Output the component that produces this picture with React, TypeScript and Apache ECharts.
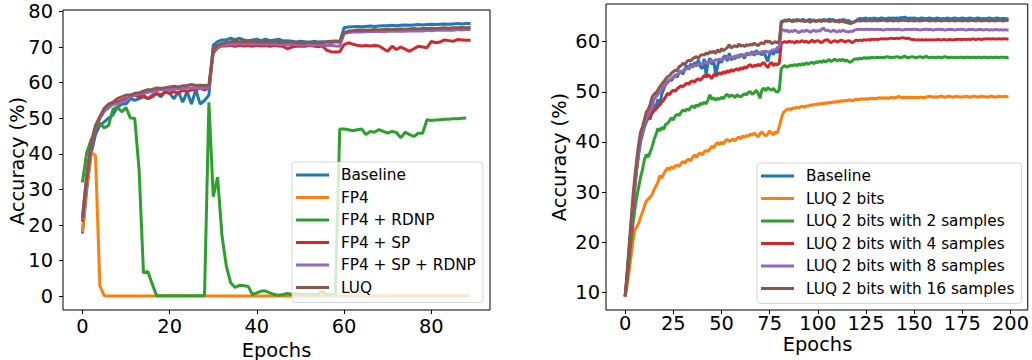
import React, { useEffect, useRef } from "react";
import * as echarts from "echarts";

const COLORS = ["#1f77b4", "#ff7f0e", "#2ca02c", "#d62728", "#9467bd", "#8c564b"];
const FONT = "DejaVu Sans";

const leftNames = ["Baseline", "FP4", "FP4 + RDNP", "FP4 + SP", "FP4 + SP + RDNP", "LUQ"];
const rightNames = [
  "Baseline",
  "LUQ 2 bits",
  "LUQ 2 bits with 2 samples",
  "LUQ 2 bits with 4 samples",
  "LUQ 2 bits with 8 samples",
  "LUQ 2 bits with 16 samples",
];

const leftXTicks = [0, 20, 40, 60, 80];
const leftYTicks = [0, 10, 20, 30, 40, 50, 60, 70, 80];
const rightXTicks = [0, 25, 50, 75, 100, 125, 150, 175, 200];
const rightYTicks = [10, 20, 30, 40, 50, 60];

// ---- Left plot (epochs 0..89) ----
const baselineL = [
  17.6, 30, 40, 45.5, 48, 49, 50, 51, 53, 54,
  54, 55.5, 55, 55.5, 56, 55.5, 56.5, 57, 56, 57.5,
  57, 55.5, 57.5, 54.5, 57.5, 54, 58, 54, 55, 56.5,
  70.5, 71.5, 72, 72, 72.5, 72, 72.5, 72, 71.8, 72,
  72.2, 71.8, 72.2, 71.8, 72, 72.2, 71.7, 71.8, 71.6, 71.4,
  71.6, 71.5, 71.3, 71.6, 71.4, 71.5, 71.4, 71.3, 71.5, 71.4,
  75.4, 75.6, 75.7, 75.8, 75.7, 75.8, 75.9, 75.8, 75.9, 76,
  76, 76.1, 76, 76.1, 76.2, 76.1, 76.2, 76.3, 76.2, 76.3,
  76.4, 76.3, 76.4, 76.5, 76.4, 76.5, 76.6, 76.5, 76.6, 76.6,
];
const fp4L = [
  18, 31, 40.5, 39.5, 3, 0.2, 0.1, 0.1, 0.1, 0.1,
  0.1, 0.1, 0.1, 0.1, 0.1, 0.1, 0.1, 0.1, 0.1, 0.1,
  0.1, 0.1, 0.1, 0.1, 0.1, 0.1, 0.1, 0.1, 0.1, 0.1,
  0.1, 0.1, 0.1, 0.1, 0.1, 0.1, 0.1, 0.1, 0.1, 0.1,
  0.1, 0.1, 0.1, 0.1, 0.1, 0.1, 0.1, 0.1, 0.1, 0.1,
  0.1, 0.1, 0.1, 0.1, 0.1, 0.1, 0.1, 0.1, 0.1, 0.1,
  0.1, 0.1, 0.1, 0.1, 0.1, 0.1, 0.1, 0.1, 0.1, 0.1,
  0.1, 0.1, 0.1, 0.1, 0.1, 0.1, 0.1, 0.1, 0.1, 0.1,
  0.1, 0.1, 0.1, 0.1, 0.1, 0.1, 0.1, 0.1, 0.1, 0.1,
];
const fp4RdnpL = [
  32, 40.3, 44, 46.5, 48.7, 47.3, 48, 52.5, 53.2, 51.8,
  53, 50.1, 50, 35.5, 6.6, 7, 3.5, 0.2, 0.2, 0.2,
  0.2, 0.2, 0.2, 0.2, 0.2, 0.2, 0.2, 0.2, 0.2, 54.5,
  28, 33.5, 17, 8.5, 3.8, 2.5, 3.1, 3, 2.8, 0.5,
  1, 1.5, 1.5, 1, 0.5, 0.3, 0.5, 0.8, 0.5, 0.8,
  0.6, 0.6, 0.6, 0.6, 0.6, 1.4, 0.6, 0.6, 0.6, 47,
  47, 46.8, 46.5, 46.8, 47, 45.4, 46.3, 46.1, 46.8, 46.3,
  45.8, 46.3, 46, 44.5, 46.1, 45.4, 44.9, 45.8, 45.8, 49.6,
  49.4, 49.5, 49.6, 49.7, 49.7, 49.9, 49.9, 50, 50.1,
];
const fp4SpL = [
  21, 33, 42, 47, 50, 52, 53, 54, 54.5, 55,
  55.5, 56, 56.5, 56, 56.5, 55.5, 56, 57, 56.5, 57.5,
  57, 57.5, 57, 58, 57.5, 58, 58, 58.5, 58, 58.5,
  68.4, 69.8, 70.3, 70.3, 70.5, 70.2, 70.5, 70.3, 70.4, 70.2,
  70.5, 70.3, 70.4, 70.2, 70.5, 70.3, 70.2, 69.5, 70, 70.2,
  70.3, 70.2, 70.4, 70.3, 70.1, 70.3, 69.1, 68.7, 68.6, 68.7,
  70.7, 71.2, 70.8, 70.5, 70.3, 70.4, 70.3, 70.4, 70.3, 69.5,
  68.8, 70.2, 69.3, 70, 69.4, 68.8, 69.5, 70.2, 70, 69.8,
  71.6, 71.2, 71.4, 72, 71.8, 71.6, 72.1, 72, 71.9, 71.9,
];
const fp4SpRdnpL = [
  21.5, 34, 42.5, 47.5, 50, 52, 53, 54, 54, 54.5,
  55, 56, 56.5, 56.8, 57, 57.3, 57.5, 57.8, 58, 58,
  58, 58.2, 58.3, 58.3, 58.5, 58.5, 58.6, 58.5, 58.6, 58.5,
  69, 70, 70.5, 70.6, 70.8, 70.7, 70.9, 70.8, 70.9, 70.8,
  70.9, 70.8, 70.7, 70.9, 70.8, 70.7, 70.8, 70.6, 70.7, 70.8,
  70.6, 70.7, 70.5, 70.6, 70.7, 70.5, 70.4, 70.5, 70.3, 70.2,
  73.8, 74.1, 74.2, 74.3, 74.2, 74.3, 74.4, 74.3, 74.4, 74.3,
  74.4, 74.5, 74.4, 74.5, 74.4, 74.6, 74.5, 74.6, 74.5, 74.7,
  74.6, 74.7, 74.8, 74.7, 74.8, 74.7, 74.9, 74.8, 74.9, 74.9,
];
const luqL = [
  22, 34, 43, 48, 50.5, 52.8, 54, 54.5, 55.5, 56,
  56.5, 56.5, 57, 57.2, 57.6, 58, 58.1, 58.5, 58.4, 58.6,
  58.8, 59, 58.8, 59.1, 59.2, 59.5, 59.2, 59.3, 59.2, 59.3,
  69.5, 70.5, 71, 71.3, 71.5, 71.6, 71.5, 71.6, 71.5, 71.6,
  71.5, 71.4, 71.5, 71.4, 71.5, 71.3, 71.4, 71.3, 71.4, 71.2,
  71.3, 71.2, 71.4, 71.2, 71.3, 71.2, 71.5, 71.6, 71.7, 71.6,
  74, 74.5, 74.6, 74.7, 74.8, 74.7, 74.8, 74.9, 74.8, 74.9,
  75, 74.9, 75, 75.1, 75, 75.1, 75.2, 75.1, 75.2, 75.2,
  75.3, 75.2, 75.3, 75.4, 75.3, 75.4, 75.4, 75.5, 75.4, 75.5,
];

// ---- Right plot (epochs 0..199) ----
const baselineR = [
  9.2, 13, 18, 22.5, 27, 31, 34.5, 37.5, 40, 41.5,
  43, 44, 45, 44.5, 46, 47.5, 47, 48.5, 47.2, 49.5,
  50.5, 51.5, 51.8, 52.4, 52.2, 52.8, 53.4, 52.9, 53.8, 54.2,
  53.5, 54.6, 55.2, 54.4, 55.6, 54.8, 55.9, 55.2, 56.4, 55,
  54.6, 56.6, 53.4, 55.8, 56.7, 55.4, 56.2, 53, 55.2, 56.5,
  55.8, 56.9, 57.2, 56.1, 57.7, 56.3, 57, 56.5, 57.3, 56.8,
  57.5, 57.1, 56.7, 57.8, 57.3, 57.6, 58, 57.2, 58.3, 57.5,
  57.9, 57.3, 58.2, 56.9, 56, 57.5, 58.1, 57.4, 58.3, 57.8,
  58.5, 64, 64.1, 64.3, 64.2, 64.4, 64.1, 64.3, 64.2, 64.4,
  64.3, 64.2, 64.4, 64.3, 64.1, 64.3, 64.4, 64.2, 64.3, 64.1,
  64.2, 64.3, 64.2, 64.4, 64.3, 64.2, 64.5, 64.3, 64.4, 64.2,
  64.1, 64.3, 64.2, 64.4, 64.3, 64.1, 64.2, 63.9, 63.8, 63.9,
  64.2, 64.5, 64.6, 64.5, 64.6, 64.7, 64.5, 64.6, 64.5, 64.7,
  64.6, 64.5, 64.6, 64.7, 64.6, 64.5, 64.6, 64.7, 64.6, 64.7,
  64.6, 64.7, 64.6, 64.8, 64.7, 64.9, 64.7, 64.6, 64.7, 64.6,
  64.7, 64.6, 64.5, 64.6, 64.7, 64.6, 64.5, 64.6, 64.7, 64.6,
  64.5, 64.6, 64.7, 64.6, 64.5, 64.6, 64.5, 64.7, 64.6, 64.5,
  64.6, 64.7, 64.6, 64.5, 64.6, 64.7, 64.6, 64.5, 64.6, 64.7,
  64.6, 64.5, 64.6, 64.7, 64.6, 64.5, 64.6, 64.5, 64.6, 64.7,
  64.6, 64.5, 64.6, 64.7, 64.6, 64.5, 64.6, 64.6, 64.5, 64.6,
];
const luq2R = [
  9.2, 11.5, 14, 17, 20, 22.5, 23, 23.8, 25, 26,
  27.2, 28.2, 28.6, 29, 29.5, 30.5, 31.2, 32, 33.3, 32.8,
  33.6, 34.3, 34.8, 34.5, 35, 34.7, 35.2, 35.4, 35.1, 35.7,
  36.1, 35.8, 36.3, 36.6, 36.2, 37, 37.4, 36.9, 37.6, 37.8,
  37.4, 38, 38.3, 38.1, 38.6, 39.2, 38.8, 39.5, 39.9, 39.4,
  40, 39.6, 40.2, 40.5, 40.1, 40.3, 40.6, 40.2, 40.7, 41,
  40.6, 41.2, 40.9, 41.3, 41.1, 41.6, 41.3, 41.8, 41.4, 41,
  41.7, 42, 41.5, 41.2, 41.6, 42.2, 41.8, 41.4, 42, 41.7,
  43.1, 44.6, 45.8, 46.2, 46.5, 46.6, 46.4, 46.8, 46.7, 46.9,
  46.8, 47, 47.1, 46.9, 47.2, 47.1, 47.4, 47.3, 47.5, 47.4,
  47.6, 47.5, 47.7, 47.6, 47.8, 47.7, 47.9, 47.8, 48, 47.9,
  48.1, 48, 48.2, 48.1, 48.3, 48.2, 48.4, 48.3, 48.2, 48.4,
  48.5, 48.4, 48.5, 48.6, 48.5, 48.6, 48.5, 48.7, 48.6, 48.7,
  48.6, 48.7, 48.8, 48.7, 48.8, 48.7, 48.8, 48.7, 48.9, 48.8,
  48.8, 48.9, 49.1, 48.9, 48.8, 48.9, 48.8, 48.9, 48.8, 48.9,
  48.8, 48.9, 48.8, 48.9, 48.9, 48.8, 48.9, 49, 49.1, 49,
  48.9, 49, 48.9, 49, 49.1, 49, 48.9, 49, 49.1, 49,
  48.9, 49, 49.1, 49, 48.9, 49, 49, 49.1, 49, 48.9,
  49, 49.1, 49, 48.9, 49, 49.1, 49, 49, 48.9, 49,
  49.1, 49, 48.9, 49, 49.1, 49, 49, 49.1, 49, 49,
];
const luq2s2R = [
  9.2, 12.5, 16, 20, 23.5, 26.5, 29, 31, 33, 34.5,
  36.5, 37.5, 37, 38, 39, 40.5, 41.5, 42.7, 42.2, 42.9,
  42.5, 43.5, 43.7, 44.2, 44.8, 44.4, 45.2, 45.5, 45.3, 45.9,
  46.4, 46.1, 46.6, 46.3, 46.9, 47.2, 46.8, 47.4, 47.1, 47.7,
  47.5, 47.9, 47.6, 48.4, 49.4, 48.5, 48.8, 48.3, 48.7, 48.5,
  48.9, 48.6, 49.2, 49.5, 49, 49.3, 49.2, 48.8, 49.4, 49.1,
  49, 49.3, 49.6, 49.4, 49.9, 50, 49.5, 49.8, 50.3, 49.7,
  48.7, 50.4, 50.7, 50.2, 50.8, 50.5, 50.3, 50.7, 50.1, 49.9,
  50.4, 54.6, 55, 55.2, 54.9, 55.1, 55.3, 55.2, 55.4, 55.2,
  55.5, 55.3, 55.6, 55.4, 55.8, 55.5, 55.7, 55.9, 55.6, 56,
  55.8, 56.1, 55.8, 56.3, 55.9, 56.2, 56.4, 56, 56.3, 56.5,
  56.1, 56.4, 56.2, 56.5, 56.1, 56.3, 56, 55.9, 56.2, 56.5,
  56.6, 56.5, 56.7, 56.6, 56.8, 56.7, 56.8, 56.7, 56.9, 56.8,
  56.8, 56.9, 56.8, 56.9, 56.8, 56.9, 57, 56.9, 56.8, 56.9,
  56.9, 57, 56.9, 56.8, 56.9, 57.1, 56.9, 56.8, 56.9, 57,
  56.9, 56.8, 56.9, 57, 56.9, 56.8, 57.1, 56.9, 56.8, 56.9,
  56.9, 56.8, 56.9, 56.9, 56.8, 56.9, 57, 56.9, 56.8, 56.9,
  56.9, 56.8, 56.9, 56.8, 56.9, 56.9, 56.8, 56.9, 56.9, 56.8,
  56.9, 56.9, 56.8, 56.9, 56.9, 56.8, 56.9, 56.9, 56.8, 56.9,
  56.9, 56.8, 56.9, 56.9, 56.8, 56.9, 56.9, 56.9, 56.8, 56.9,
];
const luq2s4R = [
  9.2, 13, 17.5, 22, 26.5, 31, 35, 38.4, 40.5, 42.2,
  43.7, 44.2, 44.8, 45.3, 45.8, 46.2, 46.6, 47, 47.4, 48,
  48.3, 49, 49.7, 49.4, 50, 50.3, 50.1, 50.6, 50.9, 51.2,
  51, 51.4, 51.7, 51.5, 52, 52.2, 51.9, 52.4, 52.6, 52.3,
  52.7, 53.3, 52.9, 53.4, 53.1, 52.6, 53.5, 53.2, 53.4, 53.8,
  53.5, 54, 53.7, 54.2, 53.9, 54.4, 54.1, 54.4, 54.6, 54.3,
  54.8, 54.5, 55, 54.7, 55.2, 55.4, 54.9, 55.3, 55.1, 55.5,
  55.2, 55.6, 55.8, 55.3, 54.8, 55.5, 55.9, 55.2, 55.6, 55.4,
  55.7, 59.6, 59.9, 60, 59.8, 60.1, 59.9, 60, 59.7, 60.1,
  59.9, 60, 60.2, 59.9, 60.1, 59.8, 60, 60.3, 59.9, 60.1,
  60.2, 60, 59.8, 60.1, 60.3, 60.4, 60, 59.8, 60.1, 60.2,
  59.9, 60.1, 60.3, 60.2, 59.9, 60.1, 60.2, 60, 59.8, 60.1,
  60.3, 60.2, 60.3, 60.2, 60.4, 60.3, 60.4, 60.3, 60.5, 60.4,
  60.5, 60.4, 60.5, 60.6, 60.5, 60.6, 60.5, 60.6, 60.7, 60.6,
  60.6, 60.7, 60.6, 60.7, 60.8, 60.7, 60.6, 60.7, 60.5, 60.4,
  60.4, 60.3, 60.4, 60.3, 60.4, 60.3, 60.4, 60.3, 60.4, 60.3,
  60.4, 60.3, 60.4, 60.4, 60.3, 60.4, 60.4, 60.3, 60.4, 60.4,
  60.3, 60.4, 60.4, 60.5, 60.4, 60.4, 60.5, 60.4, 60.5, 60.4,
  60.5, 60.5, 60.4, 60.5, 60.5, 60.4, 60.5, 60.5, 60.6, 60.5,
  60.5, 60.6, 60.5, 60.5, 60.6, 60.5, 60.5, 60.6, 60.5, 60.5,
];
const luq2s8R = [
  9.2, 13.5, 18.5, 23, 27.5, 31.5, 35, 38, 40.5, 42,
  43.5, 44.5, 45.5, 46.3, 47, 48.5, 49, 49.5, 50, 50.6,
  51, 51.6, 52, 52.3, 52.6, 53, 53.2, 53.5, 53.7, 54,
  54.2, 54.4, 54.6, 54.8, 55, 55.1, 55.3, 55.2, 55.5, 55.6,
  55.4, 55.8, 55.9, 55.7, 56, 56.2, 56.1, 56.4, 56.3, 56.5,
  56.4, 56.7, 56.6, 56.9, 56.7, 57, 56.8, 57.1, 57, 57.3,
  57.2, 57.4, 57.2, 57.6, 57.5, 57.7, 57.4, 57.8, 57.6, 57.9,
  57.7, 58, 57.8, 58.1, 57.9, 58, 58.2, 58.4, 58.3, 58.8,
  59, 62.2, 62.4, 62.1, 62.3, 61.9, 62.2, 62, 62.3, 62.1,
  61.8, 62, 62.2, 62, 62.3, 62.1, 61.9, 62.1, 62.3, 62,
  62.2, 62.1, 62.5, 62.7, 62.2, 62.3, 62.1, 62, 62.3, 62.1,
  61.9, 62.2, 62, 62.3, 62.1, 62, 61.9, 62.1, 62, 62.3,
  62.4, 62.4, 62.5, 62.4, 62.4, 62.5, 62.4, 62.4, 62.5, 62.4,
  62.4, 62.5, 62.4, 62.4, 62.3, 62.4, 62.5, 62.4, 62.4, 62.5,
  62.4, 62.4, 62.5, 62.4, 62.3, 62.4, 62.4, 62.5, 62.4, 62.4,
  62.5, 62.4, 62.4, 62.3, 62.4, 62.4, 62.5, 62.4, 62.4, 62.4,
  62.3, 62.4, 62.4, 62.5, 62.4, 62.4, 62.3, 62.4, 62.4, 62.4,
  62.4, 62.3, 62.4, 62.4, 62.5, 62.4, 62.4, 62.3, 62.4, 62.4,
  62.4, 62.4, 62.3, 62.4, 62.4, 62.4, 62.3, 62.4, 62.4, 62.3,
  62.4, 62.3, 62.4, 62.4, 62.3, 62.4, 62.3, 62.4, 62.3, 62.3,
];
const luq2s16R = [
  9.2, 14, 19, 24, 29, 33, 36.5, 39.5, 42, 43,
  44.5, 46, 46.5, 47.5, 49, 49.5, 49.8, 50.4, 51, 51.5,
  52, 52.5, 53, 53.2, 53.7, 54, 54.3, 54.2, 55, 55.2,
  55.7, 55.4, 56, 56.3, 56.1, 56.6, 56.8, 57, 56.7, 57.2,
  57.4, 57.3, 57.7, 57.5, 58, 57.8, 58.1, 57.6, 58.4, 57.9,
  58.6, 58.2, 58.5, 58.8, 59.4, 58.7, 59, 59.2, 58.9, 59.5,
  59.1, 59.3, 59, 59.4, 59.2, 59.5, 59.3, 59.7, 59.4, 59.2,
  59.6, 59.8, 59.5, 60.2, 59.9, 60.1, 59.6, 59.8, 60, 59.7,
  60.2, 63.8, 64, 64.2, 64.1, 64.3, 64.2, 64, 64.2, 64.1,
  64.3, 64.1, 64.2, 64, 64.2, 64.1, 63.9, 64.1, 64.2, 64,
  64.1, 64.2, 64, 64.3, 64.1, 64.2, 64, 64.1, 64.2, 64,
  64.1, 63.9, 64.1, 64, 63.9, 63.8, 63.7, 63.6, 63.8, 64,
  64.1, 64.2, 64.1, 64.2, 64.2, 64.1, 64.2, 64.2, 64.1, 64.2,
  64.2, 64.1, 64.2, 64.2, 64.3, 64.2, 64.1, 64.2, 64.2, 64.1,
  64.2, 64.2, 64.1, 64.2, 64.3, 64.2, 64.2, 64.1, 64.2, 64.2,
  64.1, 64.2, 64.2, 64.1, 64.2, 64.2, 64.3, 64.2, 64.1, 64.2,
  64.2, 64.1, 64.2, 64.2, 64.1, 64.2, 64.2, 64.2, 64.1, 64.2,
  64.2, 64.1, 64.2, 64.2, 64.2, 64.1, 64.2, 64.2, 64.1, 64.2,
  64.2, 64.2, 64.1, 64.2, 64.2, 64.1, 64.2, 64.2, 64.2, 64.1,
  64.2, 64.2, 64.1, 64.2, 64.2, 64.2, 64.1, 64.2, 64.2, 64.2,
];

const leftSeries = [baselineL, fp4L, fp4RdnpL, fp4SpL, fp4SpRdnpL, luqL];
const rightSeries = [baselineR, luq2R, luq2s2R, luq2s4R, luq2s8R, luq2s16R];

function lineSeries(name: string, values: number[], color: string, idx: number) {
  return {
    name,
    type: "line",
    xAxisIndex: idx,
    yAxisIndex: idx,
    data: values.map((v, i) => [i, v]),
    showSymbol: false,
    symbol: "none",
    color,
    lineStyle: { color, width: 3 },
    emphasis: { disabled: true },
  };
}

function valueAxis(gridIndex: number, min: number, max: number, ticks: number[], margin: number) {
  return {
    type: "value",
    gridIndex,
    min,
    max,
    axisLine: { show: false, onZero: false },
    axisTick: { show: true, customValues: ticks, length: 4, inside: false, lineStyle: { color: "#000", width: 1 } },
    axisLabel: {
      customValues: ticks,
      color: "#000",
      fontFamily: FONT,
      fontSize: 19.4,
      lineHeight: 14,
      margin,
    },
    splitLine: { show: false },
  };
}

function legendFor(names: string[], left: number, top: number) {
  return {
    orient: "vertical",
    left,
    top,
    data: names,
    icon: "rect",
    itemWidth: 33,
    itemHeight: 3,
    itemGap: 2.5,
    selectedMode: false,
    padding: [3, 7, 5, 4],
    backgroundColor: "rgba(255,255,255,0.8)",
    borderColor: "rgba(204,204,204,0.8)",
    borderWidth: 1,
    borderRadius: 3,
    textStyle: { fontFamily: FONT, fontSize: 15.3, color: "#000", lineHeight: 20, padding: [0, 0, 0, 7] },
  };
}

export default function App() {
  const ref = useRef<HTMLDivElement>(null);
  useEffect(() => {
    if (!ref.current) return;
    const chart = echarts.init(ref.current, null, { renderer: "svg" });
    const titleStyle = {
      fontFamily: FONT,
      fontSize: 19.4,
      lineHeight: 14,
      fill: "#000",
      align: "center",
      verticalAlign: "middle",
    };
    chart.setOption({
      animation: false,
      backgroundColor: "#fff",
      grid: [
        { left: 63, top: 10, width: 427, height: 300, show: true, borderColor: "#000", borderWidth: 1, backgroundColor: "transparent" },
        { left: 606, top: 4, width: 423, height: 306, show: true, borderColor: "#000", borderWidth: 1, backgroundColor: "transparent" },
      ],
      xAxis: [
        valueAxis(0, -4.45, 93.45, leftXTicks, 9),
        valueAxis(1, -9.95, 208.95, rightXTicks, 6),
      ],
      yAxis: [
        valueAxis(0, -3.83, 80.4, leftYTicks, 10),
        valueAxis(1, 6.5, 67.5, rightYTicks, 6),
      ],
      legend: [legendFor(leftNames, 292, 162), legendFor(rightNames, 757, 163)],
      series: [
        ...leftNames.map((n, i) => lineSeries(n, leftSeries[i], COLORS[i], 0)),
        ...rightNames.map((n, i) => lineSeries(n, rightSeries[i], COLORS[i], 1)),
      ],
      graphic: [
        { type: "text", x: 17, y: 161, rotation: Math.PI / 2, style: { text: "Accuracy (%)", ...titleStyle } },
        { type: "text", x: 559, y: 157, rotation: Math.PI / 2, style: { text: "Accuracy (%)", ...titleStyle } },
        { type: "text", x: 276.5, y: 350, style: { text: "Epochs", ...titleStyle } },
        { type: "text", x: 817.5, y: 344, style: { text: "Epochs", ...titleStyle } },
      ],
    });
    return () => chart.dispose();
  }, []);
  return <div ref={ref} style={{ position: "absolute", left: 0, top: 0, width: 1032, height: 360 }} />;
}
